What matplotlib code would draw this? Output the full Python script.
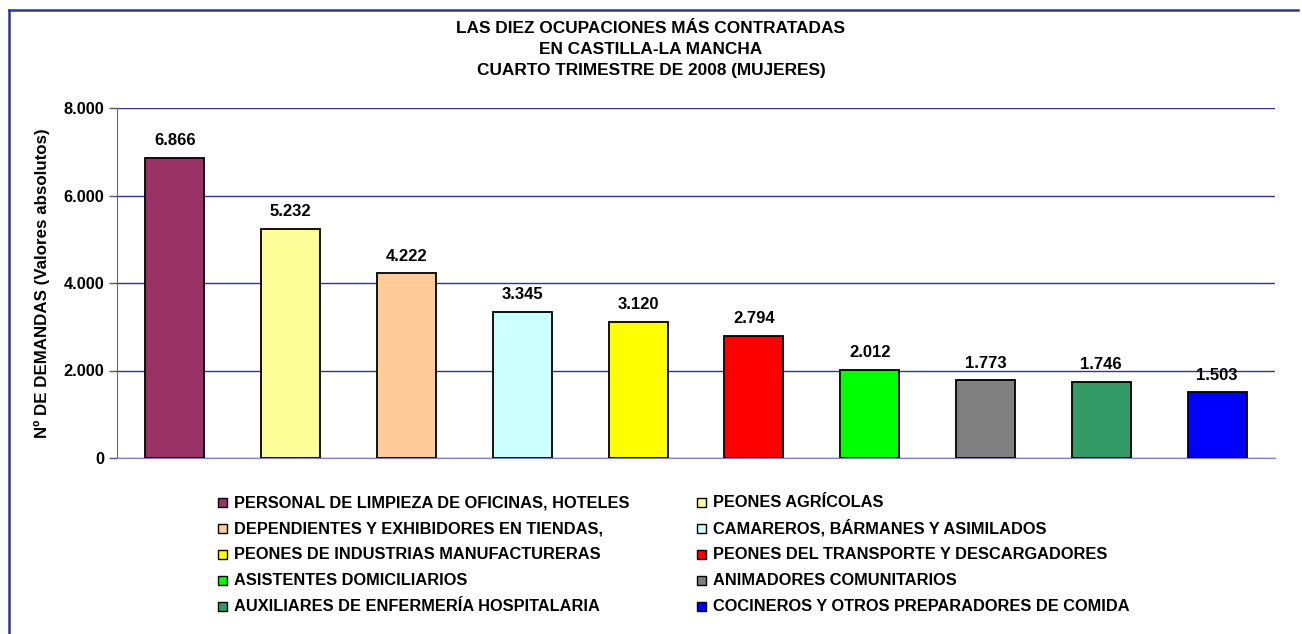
import matplotlib
matplotlib.use('Agg')
from matplotlib import pyplot as plt
from matplotlib.patches import Rectangle
from matplotlib.lines import Line2D

plt.rcParams['font.family'] = ['Liberation Sans', 'DejaVu Sans']
plt.rcParams['font.weight'] = 'bold'

# --- data ---
ocupaciones = [
    'PERSONAL DE LIMPIEZA DE OFICINAS, HOTELES',
    'PEONES AGRÍCOLAS',
    'DEPENDIENTES Y EXHIBIDORES EN TIENDAS,',
    'CAMAREROS, BÁRMANES Y ASIMILADOS',
    'PEONES DE INDUSTRIAS MANUFACTURERAS',
    'PEONES DEL TRANSPORTE Y DESCARGADORES',
    'ASISTENTES DOMICILIARIOS',
    'ANIMADORES COMUNITARIOS',
    'AUXILIARES DE ENFERMERÍA HOSPITALARIA',
    'COCINEROS Y OTROS PREPARADORES DE COMIDA',
]
demandas = [6866, 5232, 4222, 3345, 3120, 2794, 2012, 1773, 1746, 1503]
colores = ['#993366', '#FFFF99', '#FFCC99', '#CCFFFF', '#FFFF00',
           '#FF0000', '#00FF00', '#808080', '#339966', '#0000FF']
yticks = [0, 2000, 4000, 6000, 8000]

W, H = 1302, 634


def miles(v):
    return f'{v:,}'.replace(',', '.')


fig = plt.figure(figsize=(W / 100, H / 100), dpi=100)
ax = fig.add_axes([117 / W, 1 - 458 / H, (1275 - 117) / W, 350 / H])

x = list(range(len(demandas)))
ax.bar(x, demandas, width=0.51, color=colores, edgecolor='black',
       linewidth=1.3, zorder=3)
for xi, v in zip(x, demandas):
    ax.annotate(miles(v), (xi, v), xytext=(0, 7), textcoords='offset points',
                ha='center', va='bottom', fontsize=12, fontweight='bold', zorder=4)

ax.set_xlim(-0.5, len(demandas) - 0.5)
ax.set_ylim(0, 8000)
ax.set_yticks(yticks)
ax.set_yticklabels([miles(t) for t in yticks], fontsize=11.8, fontweight='bold')
ax.set_xticks([])
ax.yaxis.grid(True, color='#333388', linewidth=1, zorder=0)
ax.set_axisbelow(True)
for s in ['top', 'right']:
    ax.spines[s].set_visible(False)
ax.spines['bottom'].set_color('#7f7fcc')
ax.spines['left'].set_color('#666666')
ax.tick_params(axis='y', length=6, width=1, color='#555555', pad=3)
ax.set_ylabel('Nº DE DEMANDAS (Valores absolutos)', fontsize=12.2,
              fontweight='bold', labelpad=10)

titulo = ['LAS DIEZ OCUPACIONES MÁS CONTRATADAS',
          'EN CASTILLA-LA MANCHA',
          'CUARTO TRIMESTRE DE 2008 (MUJERES)']
for i, t in enumerate(titulo):
    fig.text(0.5, 1 - (33 + 21 * i) / H, t, ha='center', va='baseline',
             fontsize=12.4, fontweight='bold')

# legend drawn by hand: two columns, filled row by row
col_x = [218, 697]
for i, (lab, c) in enumerate(zip(ocupaciones, colores)):
    r, k = divmod(i, 2)
    yc = 502 + 26 * r
    fig.add_artist(Rectangle(((col_x[k]) / W, 1 - (yc + 4.5) / H), 9 / W, 9 / H,
                             transform=fig.transFigure, facecolor=c,
                             edgecolor='black', linewidth=1))
    fig.text((col_x[k] + 16) / W, 1 - (yc + 5) / H, lab, ha='left', va='baseline',
             fontsize=11.8, fontweight='bold')

# outer frame (top and left only)
fig.add_artist(Line2D([9 / W, 9 / W], [0, 1 - 10 / H],
                      color='#333399', linewidth=1.8))
fig.add_artist(Line2D([9 / W, 1298 / W], [1 - 10 / H, 1 - 10 / H],
                      color='#333399', linewidth=1.8))

plt.savefig('out.png', dpi=100)
plt.close()
